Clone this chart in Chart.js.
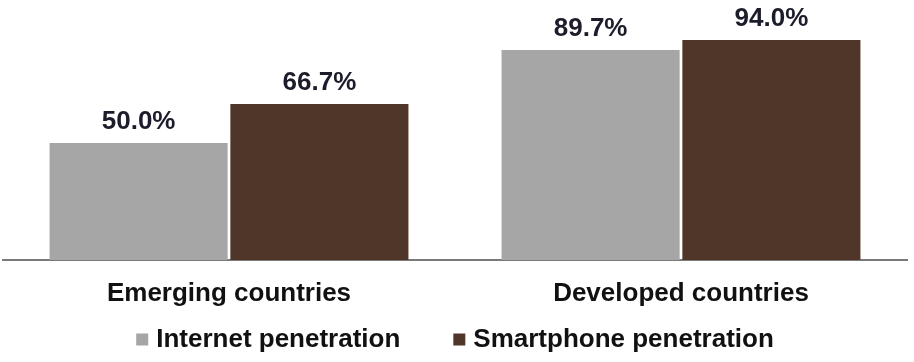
<!DOCTYPE html>
<html>
<head>
<meta charset="utf-8">
<script src="https://cdn.jsdelivr.net/npm/chart.js@4"></script>
<style>
html, body { margin: 0; padding: 0; background: #fff; }
#wrap { width: 914px; height: 362px; position: relative; }
</style>
</head>
<body>
<div id="wrap"><canvas id="penetrationChart"></canvas></div>
<script>
const categories = ['Emerging countries', 'Developed countries'];
const internetValues = [50.0, 89.7];
const smartphoneValues = [66.7, 94.0];
const seriesNames = ['Internet penetration', 'Smartphone penetration'];
const seriesColors = ['#a6a6a6', '#4f3629'];

const FONT = '"Liberation Sans", Arial, sans-serif';

// percentage labels above each bar
const valueLabels = {
    id: 'valueLabels',
    afterDatasetsDraw(chart) {
        const ctx = chart.ctx;
        ctx.save();
        ctx.font = 'bold 26px ' + FONT;
        ctx.fillStyle = '#1c1c2a';
        ctx.textAlign = 'center';
        ctx.textBaseline = 'middle';
        chart.data.datasets.forEach((ds, i) => {
            chart.getDatasetMeta(i).data.forEach((bar, j) => {
                ctx.fillText(ds.data[j].toFixed(1) + '%', bar.x, bar.y - 21);
            });
        });
        ctx.restore();
    }
};

// legend drawn by hand so the item spacing matches
const bottomLegend = {
    id: 'bottomLegend',
    afterDraw(chart) {
        const ctx = chart.ctx;
        const box = 12, gap = 8, spacing = 53, y = 339.5;
        ctx.save();
        ctx.font = 'bold 26px ' + FONT;
        const widths = chart.data.datasets.map(ds => box + gap + ctx.measureText(ds.label).width);
        const total = widths.reduce((a, b) => a + b, 0) + spacing * (widths.length - 1);
        let x = (chart.width - total) / 2 - 2;
        ctx.textBaseline = 'middle';
        ctx.textAlign = 'left';
        chart.data.datasets.forEach((ds, i) => {
            ctx.fillStyle = ds.backgroundColor;
            ctx.fillRect(x, y - box / 2, box, box);
            ctx.fillStyle = '#111111';
            ctx.fillText(ds.label, x + box + gap, y);
            x += widths[i] + spacing;
        });
        ctx.restore();
    }
};

const ctx = document.getElementById('penetrationChart').getContext('2d');
new Chart(ctx, {
    type: 'bar',
    data: {
        labels: categories,
        datasets: [{
            label: seriesNames[0],
            data: internetValues,
            backgroundColor: seriesColors[0],
            categoryPercentage: 0.8,
            barPercentage: 0.985
        }, {
            label: seriesNames[1],
            data: smartphoneValues,
            backgroundColor: seriesColors[1],
            categoryPercentage: 0.8,
            barPercentage: 0.985
        }]
    },
    options: {
        responsive: true,
        maintainAspectRatio: false,
        animation: false,
        layout: { padding: { top: 26, left: 3, right: 7, bottom: 52 } },
        scales: {
            x: {
                grid: { display: false, drawTicks: false },
                border: { display: true, color: '#7a7a7a', width: 2 },
                ticks: {
                    color: '#111111',
                    font: { family: FONT, size: 26, weight: 'bold' },
                    padding: 18
                },
                afterFit: s => { s.height = 50; }
            },
            y: { display: false, min: 0, max: 100 }
        },
        plugins: {
            legend: { display: false },
            tooltip: { enabled: false }
        }
    },
    plugins: [valueLabels, bottomLegend]
});
</script>
</body>
</html>
